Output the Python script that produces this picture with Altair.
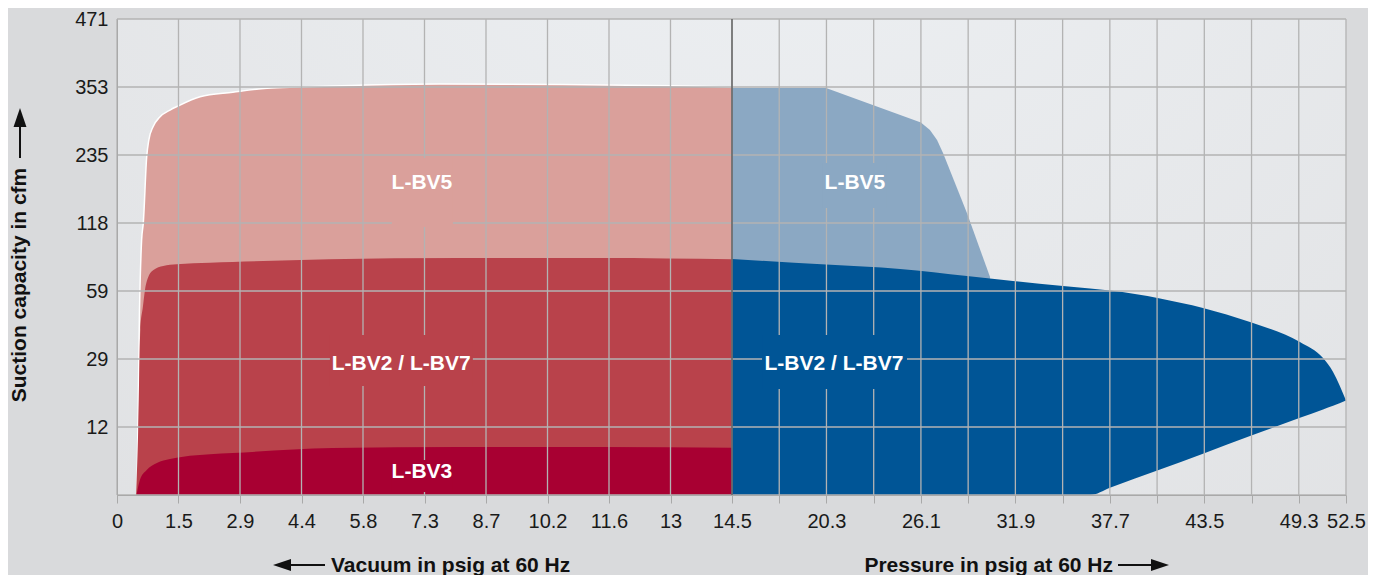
import altair as alt
import pandas as pd

# ---------------- axis definitions ----------------
vac_ticks = [0, 1.45, 2.9, 4.35, 5.8, 7.25, 8.7, 10.15, 11.6, 13.05, 14.5]
prs_ticks = [17.423, 20.346, 23.269, 26.192, 29.115, 32.038, 34.962,
             37.885, 40.808, 43.731, 46.654, 49.577, 52.5]
x_tick_labels = ["0", "1.5", "2.9", "4.4", "5.8", "7.3", "8.7", "10.2", "11.6", "13", "14.5",
                 "", "20.3", "", "26.1", "", "31.9", "", "37.7", "", "43.5", "", "49.3", "52.5"]
y_levels = [0, 12, 29, 59, 118, 235, 353, 471]
y_labelled = [12, 29, 59, 118, 235, 353, 471]

# ---------------- series (psig, cfm) ----------------
# vacuum side
bv5_vac_x = [0.47, 0.53, 0.58, 0.62, 0.70, 0.75, 0.85, 1.01, 1.25, 1.44, 1.96, 2.73, 3.54, 4.31, 5.5, 7.6, 10.5, 13.1, 14.5]
bv5_vac_y = [0, 50, 103, 118, 232, 261, 284, 301, 313, 320, 336, 344, 351, 353, 355.5, 358, 357.5, 355, 353]

bv2_vac_x = [0.45, 0.50, 0.55, 0.61, 0.66, 0.74, 0.86, 1.09, 1.41, 2.19, 2.73, 5.0, 8.09, 11.39, 14.5]
bv2_vac_y = [0, 11.5, 41.8, 51.9, 59.9, 71.4, 77.2, 80.7, 82.2, 83.6, 84.2, 86.5, 87.6, 87.6, 86.5]

bv3_vac_x = [0.46, 0.54, 0.70, 0.94, 1.25, 1.56, 2.19, 2.73, 5.09, 8.09, 11.39, 14.5]
bv3_vac_y = [0, 2.65, 4.41, 5.65, 6.35, 6.76, 7.18, 7.41, 8.29, 8.47, 8.47, 8.35]

# pressure side
bv5_prs_x = [14.5, 20.32, 26.19, 26.75, 27.19, 27.56, 29.04, 30.47]
bv5_prs_y = [351.3, 351.3, 291.4, 278.4, 261, 238.5, 135.2, 71.1]

bv2_prs_x = [14.5, 20.32, 24.90, 29.04, 31.89, 34.99, 36.66, 37.89, 40.99, 43.65, 46.56, 49.65, 51.08, 51.70, 52.5]
bv2_prs_top = [86.8, 81.9, 78.1, 72.0, 67.7, 63.3, 61.1, 59.4, 55.7, 51.5, 45.3, 36.5, 29.4, 25.75, 18.6]
bv2_prs_bot = [0, 0, 0, 0, 0, 0, 0, 1.29, 4.5, 7.3, 10.4, 14.3, 16.4, 17.3, 18.6]

# region labels (psig, cfm) and their knock-out boxes
lbl_text = ["L-BV5", "L-BV2 / L-BV7", "L-BV3", "L-BV5", "L-BV2 / L-BV7"]
lbl_x = [7.19, 6.70, 7.19, 22.11, 20.81]
lbl_y = [188.5, 28.1, 4.24, 188.5, 28.1]
box_x0 = [6.48, 5.02, 6.48, 20.13, 16.36]
box_x1 = [7.92, 8.39, 7.92, 24.09, 25.33]
box_y0 = [114.5, 22.25, 0.53, 143.8, 21.5]
box_y1 = [229.8, 39.6, 6.18, 221.2, 39.6]
box_fill = ["#daa09b", "#b9424b", "#a80032", "#8ba8c3", "#005596"]

C_PINK, C_RED, C_DARKRED = "#daa09b", "#b9424b", "#a80032"
C_LBLUE, C_BLUE = "#8ba8c3", "#005596"
GRID = "#b3b3b3"
FONT = "Liberation Sans"

# ---------------- scales / axes ----------------
xscale = alt.Scale(domain=[0, 14.5, 52.5], range=[0, 615, 1229], zero=False, nice=False)
yscale = alt.Scale(domain=y_levels, range=[476, 408, 340, 272, 204, 136, 68, 0], zero=False, nice=False)

lab_arr = "[" + ",".join("'" + s + "'" for s in x_tick_labels) + "]"
label_expr = lab_arr + "[datum.value <= 14.51 ? round(datum.value / 1.45) : 10 + round((datum.value - 14.5) * 13 / 38)]"

xaxis = alt.Axis(values=vac_ticks + prs_ticks, labelExpr=label_expr, grid=False, title=None,
                 tickSize=8, tickColor="#a9a9a9", domainColor="#a9a9a9", labelFontSize=20,
                 labelFont=FONT, labelColor="#1a1a1a", labelPadding=8, zindex=1,
                 labelOverlap=False, labelFlush=False)
yaxis = alt.Axis(values=y_labelled, grid=False, title=None, ticks=False, domainColor="#a9a9a9",
                 labelFontSize=20, labelFont=FONT, labelColor="#1a1a1a", labelPadding=9,
                 zindex=1, labelOverlap=False, format="d")


def X(f):
    return alt.X(f, type="quantitative", scale=xscale, axis=xaxis)


def Y(f):
    return alt.Y(f, type="quantitative", scale=yscale, axis=yaxis)


# ---------------- data frames ----------------
bg_df = pd.DataFrame({"x0": [0], "x1": [52.5], "y0": [0], "y1": [471]})
bv5v = pd.DataFrame({"p": bv5_vac_x, "q": bv5_vac_y})
bv2v = pd.DataFrame({"p": bv2_vac_x, "q": bv2_vac_y})
bv3v = pd.DataFrame({"p": bv3_vac_x, "q": bv3_vac_y})
bv5p = pd.DataFrame({"p": bv5_prs_x, "q": bv5_prs_y})
bv2p = pd.DataFrame({"p": bv2_prs_x, "q": bv2_prs_top, "q0": bv2_prs_bot})
vgrid = pd.DataFrame({"v": vac_ticks + prs_ticks})
hgrid = pd.DataFrame({"v": y_levels})
lbl = pd.DataFrame({"t": lbl_text, "p": lbl_x, "q": lbl_y})
box = pd.DataFrame({"x0": box_x0, "x1": box_x1, "y0": box_y0, "y1": box_y1, "f": box_fill})
mid = pd.DataFrame({"v": [14.5]})

grad = alt.Gradient(gradient="radial",
                    stops=[alt.GradientStop(color="#eff2f5", offset=0),
                           alt.GradientStop(color="#dfe0e2", offset=1)],
                    x1=0.55, y1=0.05, r1=0, x2=0.55, y2=0.05, r2=0.95)

bg = alt.Chart(bg_df).mark_rect(fill=grad).encode(x=X("x0"), x2="x1", y=Y("y0"), y2="y1")

a_bv5v = alt.Chart(bv5v).mark_area(color=C_PINK, interpolate="monotone").encode(x=X("p"), y=Y("q"))
l_bv5v = alt.Chart(bv5v).mark_line(color="white", strokeWidth=1.5, interpolate="monotone").encode(x=X("p"), y=Y("q"))
a_bv2v = alt.Chart(bv2v).mark_area(color=C_RED, interpolate="monotone").encode(x=X("p"), y=Y("q"))
a_bv3v = alt.Chart(bv3v).mark_area(color=C_DARKRED, interpolate="monotone").encode(x=X("p"), y=Y("q"))
a_bv5p = alt.Chart(bv5p).mark_area(color=C_LBLUE, interpolate="linear").encode(x=X("p"), y=Y("q"))
a_bv2p = alt.Chart(bv2p).mark_area(color=C_BLUE, interpolate="monotone").encode(x=X("p"), y=Y("q"), y2="q0")

g_v = alt.Chart(vgrid).mark_rule(color=GRID, strokeWidth=1.3).encode(x=X("v"))
g_h = alt.Chart(hgrid).mark_rule(color=GRID, strokeWidth=1.3).encode(y=Y("v"))

boxes = alt.Chart(box).mark_rect().encode(x=X("x0"), x2="x1", y=Y("y0"), y2="y1",
                                          fill=alt.Fill("f:N", scale=None))
midline = alt.Chart(mid).mark_rule(color="#4d4d4d", strokeWidth=1.2).encode(x=X("v"))

labels = alt.Chart(lbl).mark_text(font=FONT, fontSize=21, fontWeight="bold", color="white",
                                  baseline="middle", align="center", dy=1).encode(
    x=X("p"), y=Y("q"), text="t:N")

# axis titles with arrows
ttl = pd.DataFrame({"t": ["Suction capacity in cfm"]})
ytitle = alt.Chart(ttl).mark_text(font=FONT, fontSize=21, fontWeight="bold", color="#111111",
                                  angle=270, baseline="middle", align="center").encode(
    x=alt.value(-97), y=alt.value(266), text="t:N")
yarrow_line = alt.Chart(ttl).mark_rule(color="#111111", strokeWidth=2).encode(
    x=alt.value(-97), y=alt.value(105), y2=alt.value(139))
yarrow_head = alt.Chart(ttl).mark_point(shape="M0,-1L0.68,1L-0.68,1Z", filled=True, opacity=1,
                                        color="#111111", size=361).encode(
    x=alt.value(-97), y=alt.value(98.5))

TY = 546
xt1 = pd.DataFrame({"t": ["Vacuum in psig at 60 Hz"]})
xt2 = pd.DataFrame({"t": ["Pressure in psig at 60 Hz"]})
xtitle1 = alt.Chart(xt1).mark_text(font=FONT, fontSize=21, fontWeight="bold", color="#111111",
                                   baseline="middle", align="left").encode(
    x=alt.value(214), y=alt.value(TY + 1), text="t:N")
xtitle2 = alt.Chart(xt2).mark_text(font=FONT, fontSize=21, fontWeight="bold", color="#111111",
                                   baseline="middle", align="right").encode(
    x=alt.value(996), y=alt.value(TY + 1), text="t:N")
xarrow1_line = alt.Chart(xt1).mark_rule(color="#111111", strokeWidth=2).encode(
    x=alt.value(170), x2=alt.value(208), y=alt.value(TY))
xarrow1_head = alt.Chart(xt1).mark_point(shape="M-1,0L1,-0.68L1,0.68Z", filled=True, opacity=1,
                                         color="#111111", size=324).encode(
    x=alt.value(165), y=alt.value(TY))
xarrow2_line = alt.Chart(xt2).mark_rule(color="#111111", strokeWidth=2).encode(
    x=alt.value(1001), x2=alt.value(1040), y=alt.value(TY))
xarrow2_head = alt.Chart(xt2).mark_point(shape="M1,0L-1,-0.68L-1,0.68Z", filled=True, opacity=1,
                                         color="#111111", size=324).encode(
    x=alt.value(1043), y=alt.value(TY))

chart = alt.layer(
    bg, a_bv5v, l_bv5v, a_bv2v, a_bv3v, a_bv5p, a_bv2p,
    g_v, g_h, boxes, midline, labels,
    ytitle, yarrow_line, yarrow_head,
    xtitle1, xtitle2, xarrow1_line, xarrow1_head, xarrow2_line, xarrow2_head,
).properties(
    width=1229, height=476,
    padding={"left": 109, "top": 11, "right": 22, "bottom": 80},
    autosize=alt.AutoSizeParams(type="none"),
    background="#d9dadc",
).configure_view(stroke=None)

chart.save("out.html", embed_options={"renderer": "svg", "actions": False})
